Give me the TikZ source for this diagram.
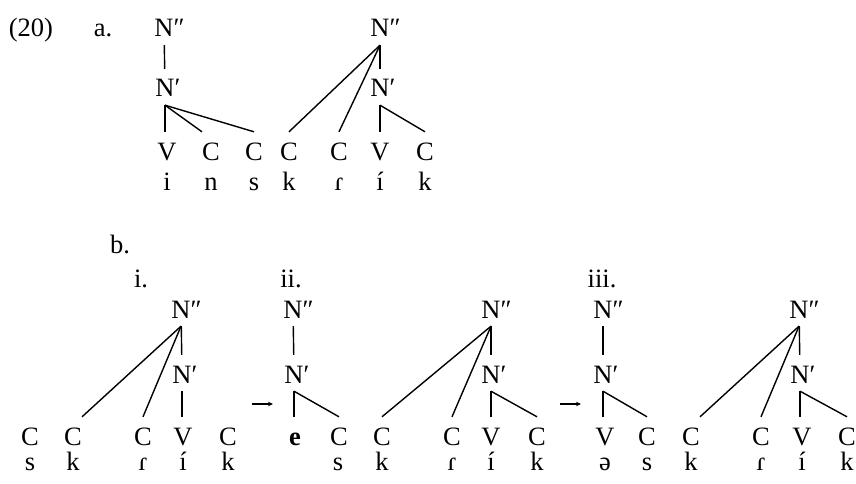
\documentclass[tikz,border=0pt]{standalone}
\usepackage{fontspec}
\setmainfont{Liberation Serif}
\usetikzlibrary{arrows.meta}
\begin{document}
\begin{tikzpicture}[x=1pt,y=-1pt,
  sym/.style={inner sep=0pt, text height=28pt, text depth=8pt, anchor=base,
    font=\fontsize{26.5pt}{30pt}\selectfont},
  lab/.style={inner sep=0pt, anchor=base, font=\fontsize{26.5pt}{30pt}\selectfont},
  branch/.style={line width=1.4pt},
  derive/.style={line width=1.1pt, -{Stealth[length=5pt,width=4.5pt]}}]
\useasboundingbox (0,0) rectangle (856,484);

% ---------- (20a) ----------
\node[lab] (ex) at (31,37) {(20)};
\node[lab] (la) at (103,37) {a.};

\node[sym] (aNN) at (164,37) {N\rlap{″}};
\node[sym] (aN)  at (165,97) {N\rlap{′}};
\node[sym] (aV1) at (167,160) {V};
\node[sym] (aC1) at (211,160) {C};
\node[sym] (aC2) at (254,160) {C};
\node[sym] (aC3) at (289,160) {C};
\node[sym] (aC4) at (339,160) {C};
\node[sym] (aV2) at (380,160) {V};
\node[sym] (aC5) at (425,160) {C};
\node[sym] (aNNr) at (380,37) {N\rlap{″}};
\node[sym] (aNr)  at (380,97) {N\rlap{′}};

\node[lab] (as1) at (167,190) {i};
\node[lab] (as2) at (211,190) {n};
\node[lab] (as3) at (254,190) {s};
\node[lab] (as4) at (289,190) {k};
\node[lab] (as5) at (339,190) {ɾ};
\node[lab] (as6) at (380,190) {í};
\node[lab] (as7) at (425,190) {k};

\draw[branch] (aNN) -- (aN);
\draw[branch] (aN.south) -- (aN.south |- aV1.north);
\draw[branch] (aN.south) -- (aC1.north west);
\draw[branch] (aN.south) -- (aC2.north);
\draw[branch] (aNNr.south) -- (aC3.north);
\draw[branch] (aNNr.south) -- (aC4.north);
\draw[branch] (aNNr) -- (aNr);
\draw[branch] (aNr.south) -- (aNr.south |- aV2.north);
\draw[branch] (aNr.south) -- (aC5.north);

% ---------- (20b) ----------
\node[lab] (lb) at (120,253) {b.};
\node[lab] (li) at (141,287) {i.};
\node[lab] (lii) at (291,287) {ii.};
\node[lab] (liii) at (602,287) {iii.};

% i.
\node[sym] (iNN) at (181,318) {N\rlap{″}};
\node[sym] (iN)  at (182,383) {N\rlap{′}};
\node[sym] (iC1) at (30,445) {C};
\node[sym] (iC2) at (73,445) {C};
\node[sym] (iC3) at (143,445) {C};
\node[sym] (iV)  at (183,445) {V};
\node[sym] (iC4) at (228,445) {C};
\node[lab] (is1) at (30,470) {s};
\node[lab] (is2) at (73,470) {k};
\node[lab] (is3) at (143,470) {ɾ};
\node[lab] (is4) at (183,470) {í};
\node[lab] (is5) at (228,470) {k};
\draw[branch] (iNN.south) -- (iC2.north east);
\draw[branch] (iNN.south) -- (iC3.north);
\draw[branch] (iNN) -- (iN);
\draw[branch] (iN.south) -- (iN.south |- iV.north);

\coordinate (d1s) at (252,404);
\coordinate (d1e) at (273,404);
\draw[derive] (d1s) -- (d1e);

% ii.
\node[sym] (iiNN) at (293,318) {N\rlap{″}};
\node[sym] (iiN)  at (294,383) {N\rlap{′}};
\node[sym] (iiV)  at (295,445) {\textbf{e}};
\node[sym] (iiC)  at (339,445) {C};
\node[lab] (iis)  at (338,470) {s};
\draw[branch] (iiNN) -- (iiN);
\draw[branch] (iiN.south) -- (iiN.south |- iiV.north);
\draw[branch] (iiN.south) -- (iiC.north);

\node[sym] (jNN) at (491,318) {N\rlap{″}};
\node[sym] (jN)  at (491,383) {N\rlap{′}};
\node[sym] (jC1) at (382,445) {C};
\node[sym] (jC2) at (452,445) {C};
\node[sym] (jV)  at (491,445) {V};
\node[sym] (jC3) at (537,445) {C};
\node[lab] (js1) at (382,470) {k};
\node[lab] (js2) at (452,470) {ɾ};
\node[lab] (js3) at (491,470) {í};
\node[lab] (js4) at (537,470) {k};
\draw[branch] (jNN.south) -- (jC1.north);
\draw[branch] (jNN.south) -- (jC2.north);
\draw[branch] (jNN) -- (jN);
\draw[branch] (jN.south) -- (jN.south |- jV.north);
\draw[branch] (jN.south) -- (jC3.north);

\coordinate (d2s) at (560,404);
\coordinate (d2e) at (581,404);
\draw[derive] (d2s) -- (d2e);

% iii.
\node[sym] (kNN) at (603,318) {N\rlap{″}};
\node[sym] (kN)  at (603,383) {N\rlap{′}};
\node[sym] (kV)  at (605,445) {V};
\node[sym] (kC)  at (647,445) {C};
\node[lab] (ks1) at (605,470) {ə};
\node[lab] (ks2) at (647,470) {s};
\draw[branch] (kNN) -- (kN);
\draw[branch] (kN.south) -- (kN.south |- kV.north);
\draw[branch] (kN.south) -- (kC.north);

\node[sym] (mNN) at (799,318) {N\rlap{″}};
\node[sym] (mN)  at (800,383) {N\rlap{′}};
\node[sym] (mC1) at (691,445) {C};
\node[sym] (mC2) at (761,445) {C};
\node[sym] (mV)  at (802,445) {V};
\node[sym] (mC3) at (847,445) {C};
\node[lab] (ms1) at (691,470) {k};
\node[lab] (ms2) at (761,470) {ɾ};
\node[lab] (ms3) at (802,470) {í};
\node[lab] (ms4) at (847,470) {k};
\draw[branch] (mNN.south) -- (mC1.north east);
\draw[branch] (mNN.south) -- (mC2.north);
\draw[branch] (mNN) -- (mN);
\draw[branch] (mN.south) -- (mN.south |- mV.north);
\draw[branch] (mN.south) -- (mC3.north);
\end{tikzpicture}
\end{document}
